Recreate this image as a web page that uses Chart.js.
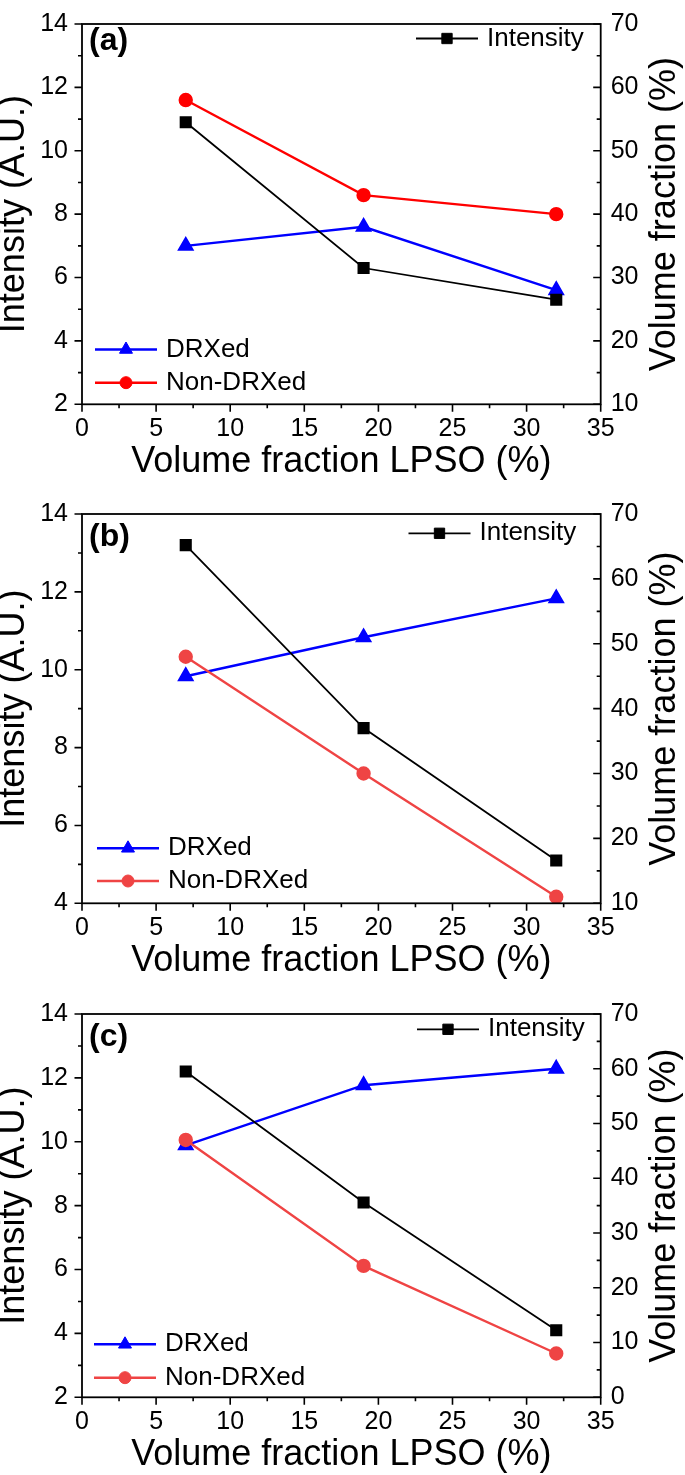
<!DOCTYPE html>
<html>
<head>
<meta charset="utf-8">
<script src="https://cdn.jsdelivr.net/npm/chart.js@4.4.0/dist/chart.umd.min.js"></script>
<style>
  body { margin: 0; background: #fff; width: 685px; height: 1475px; overflow: hidden; }
  .panel { position: absolute; left: 0; width: 685px; }
</style>
</head>
<body>
<div class="panel" style="top:0;height:490px"><canvas id="chartA"></canvas></div>
<div class="panel" style="top:490px;height:500px"><canvas id="chartB"></canvas></div>
<div class="panel" style="top:990px;height:485px"><canvas id="chartC"></canvas></div>
<script>
// x values (volume fraction LPSO, %)
const lpso = [7, 19, 32];
const xTicks = [0, 5, 10, 15, 20, 25, 30, 35];

// (a)
const intensityA = [10.9, 6.3, 5.3];
const drxA = [35, 38, 28];
const nonDrxA = [58, 43, 40];
const leftTicksA = [2, 4, 6, 8, 10, 12, 14];
const rightTicksA = [10, 20, 30, 40, 50, 60, 70];

// (b)
const intensityB = [13.2, 8.5, 5.1];
const drxB = [45, 51, 57];
const nonDrxB = [48, 30, 11];
const leftTicksB = [4, 6, 8, 10, 12, 14];
const rightTicksB = [10, 20, 30, 40, 50, 60, 70];

// (c)
const intensityC = [12.2, 8.1, 4.1];
const drxC = [46, 57, 60];
const nonDrxC = [47, 24, 8];
const leftTicksC = [2, 4, 6, 8, 10, 12, 14];
const rightTicksC = [0, 10, 20, 30, 40, 50, 60, 70];

Chart.defaults.font.family = '"Liberation Sans", Arial, Helvetica, sans-serif';
Chart.defaults.color = '#000';

const pts = ys => lpso.map((x, i) => ({ x: x, y: ys[i] }));

// frame + inward/outward tick marks, minor ticks at half steps
const frameTicks = {
  id: 'frameTicks',
  afterDatasetsDraw(chart) {
    const { ctx, chartArea: a, scales } = chart;
    ctx.save();
    ctx.strokeStyle = '#000';
    ctx.lineWidth = 1.8;
    ctx.strokeRect(a.left, a.top, a.right - a.left, a.bottom - a.top);
    ctx.lineWidth = 1.6;
    ctx.beginPath();
    const major = 7.5, minor = 4;
    const sx = scales.x;
    const xs = sx.ticks[1].value - sx.ticks[0].value;
    for (let v = sx.min; v <= sx.max + 1e-6; v += xs / 2) {
      const px = sx.getPixelForValue(v);
      const len = Math.abs((v - sx.min) % xs) < 1e-6 ? major : minor;
      ctx.moveTo(px, a.bottom); ctx.lineTo(px, a.bottom + len);
    }
    const sy = scales.y;
    const ys = sy.ticks[1].value - sy.ticks[0].value;
    for (let v = sy.min; v <= sy.max + 1e-6; v += ys / 2) {
      const py = sy.getPixelForValue(v);
      const len = Math.abs((v - sy.min) % ys) < 1e-6 ? major : minor;
      ctx.moveTo(a.left, py); ctx.lineTo(a.left - len, py);
    }
    const s2 = scales.y2;
    const ys2 = s2.ticks[1].value - s2.ticks[0].value;
    for (let v = s2.min; v <= s2.max + 1e-6; v += ys2 / 2) {
      const py = s2.getPixelForValue(v);
      const len = Math.abs((v - s2.min) % ys2) < 1e-6 ? major : minor;
      ctx.moveTo(a.right, py); ctx.lineTo(a.right - len, py);
    }
    ctx.stroke();
    ctx.restore();
  }
};

// legend entries placed inside the plot, panel letter, right axis title
const panelText = {
  id: 'panelText',
  afterDraw(chart, args, opts) {
    const { ctx, chartArea: a } = chart;
    ctx.save();
    ctx.textBaseline = 'middle';
    ctx.fillStyle = '#000';
    ctx.font = 'bold 32px "Liberation Sans", Arial, sans-serif';
    ctx.textAlign = 'left';
    ctx.fillText(opts.letter, opts.letterX, opts.letterY);

    opts.legend.forEach(item => {
      const ds = chart.data.datasets.find(d => d.label === item.label);
      ctx.strokeStyle = ds.borderColor;
      ctx.fillStyle = ds.backgroundColor;
      ctx.lineWidth = ds.borderWidth;
      ctx.beginPath();
      ctx.moveTo(item.x, item.y);
      ctx.lineTo(item.x + 62, item.y);
      ctx.stroke();
      ctx.lineWidth = 1;
      Chart.helpers.drawPoint(ctx, {
        pointStyle: ds.pointStyle, radius: ds.pointRadius, rotation: 0, borderWidth: 1
      }, item.x + 31, item.y);
      ctx.fillStyle = '#000';
      ctx.font = '26px "Liberation Sans", Arial, sans-serif';
      ctx.fillText(item.label, item.x + 71, item.y);
    });

    ctx.font = '36px "Liberation Sans", Arial, sans-serif';
    ctx.textAlign = 'center';
    ctx.translate(665, (a.top + a.bottom) / 2);
    ctx.rotate(-Math.PI / 2);
    ctx.fillText('Volume fraction (%)', 0, 0);
    ctx.restore();
  }
};

function makePanel(id, p) {
  return new Chart(document.getElementById(id), {
    type: 'line',
    data: {
      datasets: [
        { label: 'Intensity', data: pts(p.intensity), yAxisID: 'y', borderColor: '#000', backgroundColor: '#000',
          borderWidth: 1.8, pointStyle: 'rect', pointRadius: 7.3 },
        { label: 'Non-DRXed', data: pts(p.nonDrx), yAxisID: 'y2', borderColor: p.red, backgroundColor: p.red,
          borderWidth: 2.4, pointStyle: 'circle', pointRadius: 6 },
        { label: 'DRXed', data: pts(p.drx), yAxisID: 'y2', borderColor: '#0000ff', backgroundColor: '#0000ff',
          borderWidth: 2.4, pointStyle: 'triangle', pointRadius: 7.5 }
      ]
    },
    options: {
      responsive: true,
      maintainAspectRatio: false,
      animation: false,
      events: [],
      layout: { padding: { top: p.padTop, left: 0, right: 0, bottom: 0 } },
      plugins: {
        legend: { display: false },
        tooltip: { enabled: false },
        panelText: { letter: p.letter, letterX: 89, letterY: p.letterY, legend: p.legend }
      },
      scales: {
        x: {
          type: 'linear', min: 0, max: 35,
          afterBuildTicks: s => { s.ticks = xTicks.map(v => ({ value: v })); },
          afterFit: s => { s.height = p.xHeight; },
          grid: { display: false, drawTicks: false },
          border: { display: false },
          ticks: { font: { size: 25 }, padding: 10, maxRotation: 0 },
          title: { display: true, text: 'Volume fraction LPSO (%)', font: { size: 36, lineHeight: 1 },
                   padding: { top: 0, bottom: p.xHeight - 76 } }
        },
        y: {
          position: 'left', min: p.left[0], max: p.left[p.left.length - 1],
          afterBuildTicks: s => { s.ticks = p.left.map(v => ({ value: v })); },
          afterFit: s => { s.width = 82; },
          grid: { display: false, drawTicks: false },
          border: { display: false },
          ticks: { font: { size: 25, lineHeight: 0.8 }, padding: 14 },
          title: { display: true, text: 'Intensity (A.U.)', font: { size: 36, lineHeight: 0.8 },
                   padding: { top: 0, bottom: 0 } }
        },
        y2: {
          position: 'right', min: p.right[0], max: p.right[p.right.length - 1],
          afterBuildTicks: s => { s.ticks = p.right.map(v => ({ value: v })); },
          afterFit: s => { s.width = 84.3; },
          grid: { display: false, drawTicks: false },
          border: { display: false },
          ticks: { font: { size: 25, lineHeight: 0.8 }, padding: 10 }
        }
      }
    },
    plugins: [frameTicks, panelText]
  });
}

makePanel('chartA', {
  intensity: intensityA, drx: drxA, nonDrx: nonDrxA, left: leftTicksA, right: rightTicksA,
  red: '#ff0000', padTop: 11, xHeight: 85.7, letter: '(a)', letterY: 41,
  legend: [
    { label: 'Intensity', x: 416, y: 38.5 },
    { label: 'DRXed', x: 95, y: 349.5 },
    { label: 'Non-DRXed', x: 95, y: 382.7 }
  ]
});

makePanel('chartB', {
  intensity: intensityB, drx: drxB, nonDrx: nonDrxB, left: leftTicksB, right: rightTicksB,
  red: '#ef4444', padTop: 20.7, xHeight: 86.7, letter: '(b)', letterY: 47.5,
  legend: [
    { label: 'Intensity', x: 408.5, y: 43.3 },
    { label: 'DRXed', x: 97, y: 358.3 },
    { label: 'Non-DRXed', x: 97, y: 391 }
  ]
});

makePanel('chartC', {
  intensity: intensityC, drx: drxC, nonDrx: nonDrxC, left: leftTicksC, right: rightTicksC,
  red: '#ef4444', padTop: 15.7, xHeight: 77.7, letter: '(c)', letterY: 47.5,
  legend: [
    { label: 'Intensity', x: 417, y: 39.3 },
    { label: 'DRXed', x: 94, y: 354.3 },
    { label: 'Non-DRXed', x: 94, y: 387.7 }
  ]
});
</script>
</body>
</html>
